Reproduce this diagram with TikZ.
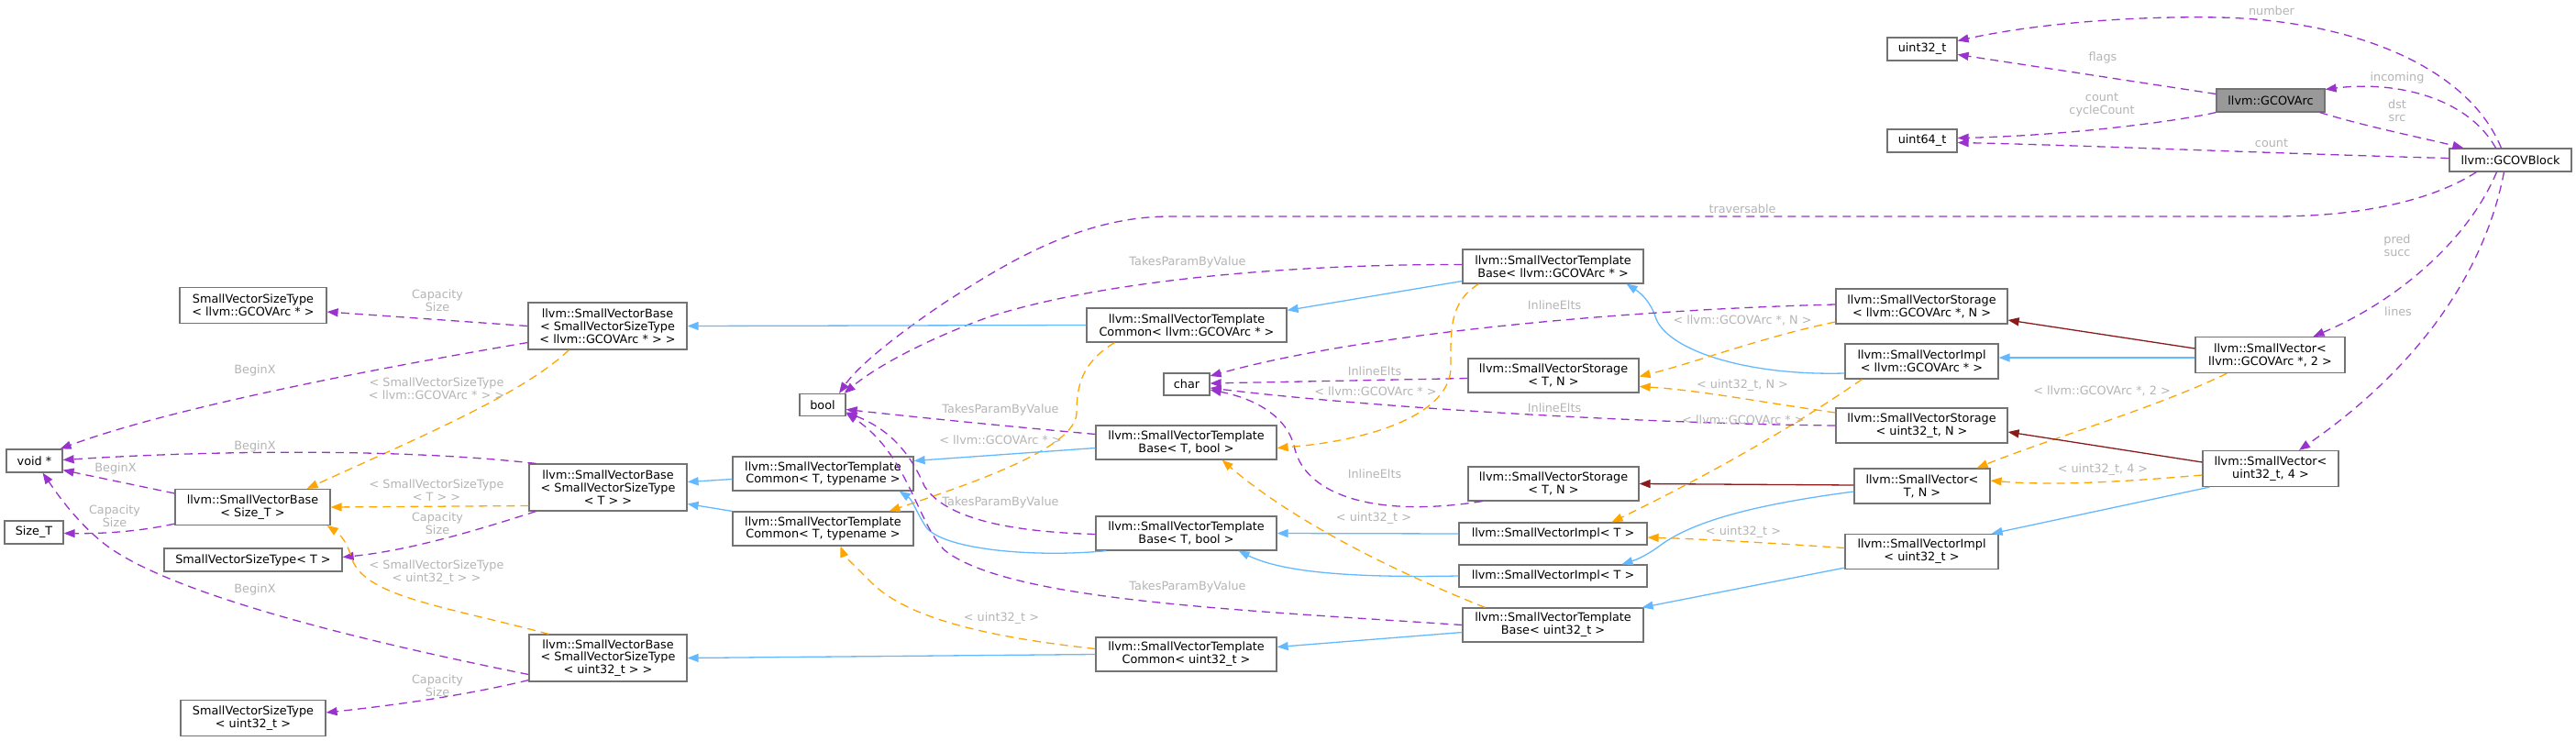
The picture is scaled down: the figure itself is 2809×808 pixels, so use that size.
\documentclass[tikz,border=0pt]{standalone}
\usepackage{fontspec}
\setmainfont{DejaVu Sans}
\usetikzlibrary{arrows.meta,calc}
\definecolor{purp}{HTML}{9A32CD}
\definecolor{orng}{HTML}{FFA500}
\definecolor{blu}{HTML}{63B8FF}
\definecolor{dred}{HTML}{8B1A1A}
\definecolor{lblgray}{HTML}{B4B4B4}
\definecolor{bordergray}{HTML}{737373}
\definecolor{arcfill}{HTML}{999999}
\newcommand\nfont{\fontsize{12.8}{13.8}\selectfont}
\tikzset{
  box/.style={draw=bordergray, fill=white, line width=1.2pt, inner sep=0pt, align=center, font=\nfont},
  lbl/.style={text=lblgray, inner sep=0pt, align=center, font=\nfont},
  tip/.style={-{Triangle[length=12pt,width=9pt]}},
  euse/.style={draw=purp, line width=1.3pt, dash pattern=on 9pt off 6pt, tip},
  etmpl/.style={draw=orng, line width=1.3pt, dash pattern=on 9pt off 6pt, tip},
  epub/.style={draw=blu, line width=1.3pt, tip},
  epriv/.style={draw=dred, line width=1.3pt, tip},
}
\begin{document}
\begin{tikzpicture}[x=1pt,y=-1pt]
\useasboundingbox (0,0) rectangle (2809,808);
% ---------- nodes ----------
\node[box, minimum width=76pt, minimum height=25pt] (u32) at (2096,53.5) {uint32\_t};
\node[box, minimum width=76pt, minimum height=25pt] (u64) at (2096,153.5) {uint64\_t};
\node[box, fill=arcfill, minimum width=118pt, minimum height=25pt] (arc) at (2476,109.5) {llvm::GCOVArc};
\node[box, minimum width=133pt, minimum height=25pt] (blk) at (2737.5,174.5) {llvm::GCOVBlock};
\node[box, minimum width=163pt, minimum height=39pt] (svA2) at (2475.5,387) {llvm::SmallVector<\\ llvm::GCOVArc *, 2 >};
\node[box, minimum width=148pt, minimum height=39pt] (svU4) at (2476,511) {llvm::SmallVector<\\ uint32\_t, 4 >};
\node[box, minimum width=187pt, minimum height=38pt] (svsA) at (2095.5,334) {llvm::SmallVectorStorage\\< llvm::GCOVArc *, N >};
\node[box, minimum width=167pt, minimum height=38pt] (svimA) at (2095.5,394) {llvm::SmallVectorImpl\\< llvm::GCOVArc * >};
\node[box, minimum width=187pt, minimum height=38pt] (svsU) at (2095.5,464) {llvm::SmallVectorStorage\\< uint32\_t, N >};
\node[box, minimum width=148pt, minimum height=38pt] (svTN) at (2096,530) {llvm::SmallVector<\\ T, N >};
\node[box, minimum width=167pt, minimum height=38pt] (svimU) at (2095.5,601.5) {llvm::SmallVectorImpl\\< uint32\_t >};
\node[box, minimum width=197pt, minimum height=37pt] (svtbA) at (1693.5,290.5) {llvm::SmallVectorTemplate\\Base< llvm::GCOVArc * >};
\node[box, minimum width=186pt, minimum height=37pt] (svsT1) at (1694,409.5) {llvm::SmallVectorStorage\\< T, N >};
\node[box, minimum width=186pt, minimum height=37pt] (svsT2) at (1694,527.5) {llvm::SmallVectorStorage\\< T, N >};
\node[box, minimum width=205pt, minimum height=24pt] (svimT1) at (1693.5,582) {llvm::SmallVectorImpl< T >};
\node[box, minimum width=205pt, minimum height=24pt] (svimT2) at (1693.5,628) {llvm::SmallVectorImpl< T >};
\node[box, minimum width=197pt, minimum height=37pt] (svtbU) at (1693.5,681.5) {llvm::SmallVectorTemplate\\Base< uint32\_t >};
\node[box, minimum width=218pt, minimum height=37pt] (svtcA) at (1294,354.5) {llvm::SmallVectorTemplate\\Common< llvm::GCOVArc * >};
\node[box, minimum width=50pt, minimum height=24pt] (char) at (1294,419) {char};
\node[box, minimum width=197pt, minimum height=37pt] (svtbT1) at (1293.5,482.5) {llvm::SmallVectorTemplate\\Base< T, bool >};
\node[box, minimum width=197pt, minimum height=37pt] (svtbT2) at (1293.5,581.5) {llvm::SmallVectorTemplate\\Base< T, bool >};
\node[box, minimum width=197pt, minimum height=37pt] (svtcU) at (1293.5,713.5) {llvm::SmallVectorTemplate\\Common< uint32\_t >};
\node[box, minimum width=50pt, minimum height=24pt] (bool) at (897,441.5) {bool};
\node[box, minimum width=197pt, minimum height=37pt] (svtc1) at (897.5,516.5) {llvm::SmallVectorTemplate\\Common< T, typename >};
\node[box, minimum width=197pt, minimum height=37pt] (svtc2) at (897.5,576.5) {llvm::SmallVectorTemplate\\Common< T, typename >};
\node[box, minimum width=173pt, minimum height=51pt] (svbA) at (662.5,355.5) {llvm::SmallVectorBase\\< SmallVectorSizeType\\< llvm::GCOVArc * > >};
\node[box, minimum width=172pt, minimum height=51pt] (svbT) at (663,531.5) {llvm::SmallVectorBase\\< SmallVectorSizeType\\< T > >};
\node[box, minimum width=172pt, minimum height=51pt] (svbU) at (663,717.5) {llvm::SmallVectorBase\\< SmallVectorSizeType\\< uint32\_t > >};
\node[box, minimum width=160pt, minimum height=39pt] (svstA) at (276,333) {SmallVectorSizeType\\< llvm::GCOVArc * >};
\node[box, minimum width=169pt, minimum height=39pt] (svbS) at (275.5,553) {llvm::SmallVectorBase\\< Size\_T >};
\node[box, minimum width=194pt, minimum height=25pt] (svstT) at (276,610.5) {SmallVectorSizeType< T >};
\node[box, minimum width=158pt, minimum height=39pt] (svstU) at (276,783) {SmallVectorSizeType\\< uint32\_t >};
\node[box, minimum width=61pt, minimum height=25pt] (void) at (37.5,502.5) {void *};
\node[box, minimum width=64pt, minimum height=25pt] (sizeT) at (37,580.5) {Size\_T};
% ---------- edges: GCOV ----------
\draw[euse] ($(blk.north)+(-10,0)$) .. controls (2690,70) and (2560,22) .. (2420,19) .. controls (2300,17) and (2200,30) .. ($(u32.east)+(0,-9)$);
\draw[euse] ($(arc.west)+(0,-7)$) -- ($(u32.east)+(0,6)$);
\draw[euse] ($(blk.north)+(-16,0)$) .. controls (2690,105) and (2610,88) .. ($(arc.east)+(0,-12)$);
\draw[euse] ($(arc.south east)+(-6,0)$) .. controls (2580,138) and (2640,150) .. ($(blk.north west)+(16,0)$);
\draw[euse] (arc.south west) .. controls (2370,133) and (2250,148) .. ($(u64.east)+(0,-3)$);
\draw[euse] ($(blk.west)+(0,-2)$) .. controls (2500,168) and (2260,158) .. ($(u64.east)+(0,2)$);
\draw[euse] ($(blk.south west)+(30,0)$) .. controls (2650,220) and (2570,236) .. (2480,236) -- (1276,236) .. controls (1180,236) and (1100,285) .. (1030,330) .. controls (975,367) and (935,400) .. ($(bool.north)+(18,0)$);
\draw[euse] ($(blk.south)+(-15,0)$) .. controls (2690,265) and (2610,330) .. ($(svA2.north)+(47,0)$);
\draw[euse] ($(blk.south)+(-7,0)$) .. controls (2705,320) and (2610,420) .. ($(svU4.north)+(31,0)$);
% ---------- edges: SmallVector family ----------
\draw[epriv] ($(svA2.west)+(0,-7)$) -- ($(svsA.east)+(0,15)$);
\draw[epub] ($(svA2.west)+(0,3)$) -- ($(svimA.east)+(0,-4)$);
\draw[etmpl] ($(svA2.south west)+(35,0)$) .. controls (2350,445) and (2230,480) .. ($(svTN.north east)+(-15,0)$);
\draw[epriv] ($(svU4.west)+(0,-7)$) -- ($(svsU.east)+(0,7)$);
\draw[etmpl] ($(svU4.west)+(0,7)$) .. controls (2320,525) and (2240,530) .. ($(svTN.east)+(0,-6)$);
\draw[epub] ($(svU4.south west)+(8,0)$) -- ($(svimU.north east)+(-8,0)$);
\draw[epriv] ($(svTN.west)+(0,-1)$) -- (svsT2.east);
\draw[epub] ($(svTN.west)+(0,6)$) .. controls (1930,548) and (1850,565) .. (1810,595) .. controls (1795,606) and (1785,610) .. ($(svimT2.north)+(75,0)$);
\draw[epub] ($(svimA.west)+(0,13)$) .. controls (1900,410) and (1815,380) .. (1805,345) .. controls (1800,330) and (1790,320) .. ($(svtbA.south)+(80,0)$);
\draw[etmpl] ($(svimA.south west)+(19,0)$) .. controls (1985,445) and (1900,500) .. ($(svimT1.north)+(64,0)$);
\draw[etmpl] ($(svsA.west)+(0,17)$) .. controls (1920,368) and (1850,395) .. ($(svsT1.east)+(0,1)$);
\draw[etmpl] ($(svsU.west)+(0,-14)$) .. controls (1930,440) and (1850,425) .. ($(svsT1.east)+(0,12)$);
\draw[euse] ($(svsA.west)+(0,-2)$) .. controls (1800,337) and (1500,360) .. ($(char.east)+(0,-9)$);
\draw[euse] ($(svsT1.west)+(0,3)$) -- ($(char.east)+(0,-1)$);
\draw[euse] (svsU.west) .. controls (1800,462) and (1500,445) .. ($(char.east)+(0,4)$);
\draw[euse] ($(svsT2.south west)+(16,0)$) .. controls (1500,565) and (1425,540) .. (1412,490) .. controls (1405,455) and (1370,435) .. ($(char.east)+(0,6)$);
\draw[etmpl] ($(svimU.west)+(0,-4)$) .. controls (1930,592) and (1860,588) .. ($(svimT1.east)+(0,4)$);
\draw[epub] ($(svimU.south west)+(0,-2)$) -- ($(svtbU.north east)+(-2,0)$);
% ---------- edges: template base / common ----------
\draw[epub] ($(svtbA.west)+(0,16)$) -- ($(svtcA.north east)+(0,3)$);
\draw[euse] ($(svtbA.west)+(0,-2)$) .. controls (1380,288) and (1190,310) .. (1080,345) .. controls (1010,370) and (955,400) .. ($(bool.north east)+(-2,0)$);
\draw[etmpl] ($(svtbA.south west)+(18,0)$) .. controls (1580,330) and (1582,360) .. (1582,400) .. controls (1582,450) and (1500,480) .. ($(svtbT1.east)+(0,6)$);
\draw[epub] (svtcA.west) -- (svbA.east);
\draw[etmpl] ($(svtcA.south west)+(31,0)$) .. controls (1180,395) and (1174,420) .. (1174,450) .. controls (1174,490) and (1050,530) .. ($(svtc2.north east)+(-27,0)$);
\draw[epub] ($(svtbT1.west)+(0,6)$) -- ($(svtc1.east)+(0,-14)$);
\draw[euse] ($(svtbT1.west)+(0,-9)$) .. controls (1100,465) and (1000,455) .. ($(bool.east)+(0,5)$);
\draw[epub] ($(svtbT2.south west)+(12,0)$) .. controls (1130,608) and (1030,600) .. (1010,575) .. controls (1000,560) and (995,545) .. ($(svtc1.south east)+(-16,0)$);
\draw[euse] ($(svtbT2.west)+(0,1)$) .. controls (1100,580) and (1030,565) .. (1008,530) .. controls (995,500) and (975,470) .. ($(bool.east)+(0,8)$);
\draw[epub] (svimT1.west) -- (svtbT2.east);
\draw[epub] (svimT2.west) .. controls (1480,630) and (1400,625) .. ($(svtbT2.south east)+(-42,0)$);
\draw[etmpl] ($(svtbU.north west)+(25,0)$) .. controls (1500,615) and (1400,560) .. ($(svtbT1.south east)+(-60,0)$);
\draw[epub] ($(svtbU.west)+(0,8)$) -- ($(svtcU.east)+(0,-8)$);
\draw[euse] (svtbU.west) .. controls (1350,665) and (1100,655) .. (1030,600) .. controls (1000,570) and (990,495) .. ($(bool.east)+(0,9)$);
\draw[epub] (svtcU.west) -- (svbU.east);
\draw[etmpl] ($(svtcU.west)+(0,-6)$) .. controls (1080,695) and (990,675) .. (950,635) .. controls (930,615) and (920,605) .. ($(svtc2.south)+(19,0)$);
\draw[epub] ($(svtc1.west)+(0,6)$) -- ($(svbT.east)+(0,-6)$);
\draw[epub] (svtc2.north west) -- ($(svbT.east)+(0,18)$);
% ---------- edges: SmallVectorBase ----------
\draw[euse] (svbA.west) -- ($(svstA.east)+(0,7)$);
\draw[euse] ($(svbA.west)+(0,18)$) .. controls (450,395) and (200,440) .. ($(void.north east)+(-3,0)$);
\draw[etmpl] ($(svbA.south west)+(45,0)$) .. controls (570,430) and (450,480) .. ($(svbS.north east)+(-26,0)$);
\draw[euse] ($(svbT.north west)+(8,0)$) .. controls (450,490) and (250,490) .. ($(void.east)+(0,-1)$);
\draw[etmpl] ($(svbT.west)+(0,20)$) -- (svbS.east);
\draw[euse] ($(svbT.south west)+(8,0)$) .. controls (530,575) and (450,600) .. ($(svstT.east)+(0,-3)$);
\draw[euse] ($(svbS.west)+(0,-15)$) -- ($(void.south east)+(0,-3)$);
\draw[euse] ($(svbS.south west)+(0,-2)$) .. controls (150,580) and (110,582) .. ($(sizeT.east)+(0,1)$);
\draw[euse] ($(svbU.west)+(0,18)$) .. controls (350,690) and (170,640) .. (110,590) .. controls (80,565) and (60,535) .. ($(void.south)+(9,0)$);
\draw[etmpl] ($(svbU.north west)+(22,0)$) .. controls (480,660) and (395,650) .. (383,607) .. controls (378,590) and (370,582) .. ($(svbS.south east)+(-4,0)$);
\draw[euse] ($(svbU.south west)+(0,-2)$) .. controls (500,760) and (420,770) .. ($(svstU.east)+(0,-6)$);
% ---------- labels ----------
\node[lbl] (l1) at (2477,12) {number};
\node[lbl] (l2) at (2293,63) {flags};
\node[lbl] (l3) at (2614,85) {incoming};
\node[lbl] (l4) at (2614,121) {dst\\src};
\node[lbl] (l5) at (2292,114) {count\\cycleCount};
\node[lbl] (l6) at (2477,156) {count};
\node[lbl] (l7) at (1900,228) {traversable};
\node[lbl] (l8) at (2614,268) {pred\\succ};
\node[lbl] (l9) at (2615,340) {lines};
\node[lbl] (l10) at (2292,426) {< llvm::GCOVArc *, 2 >};
\node[lbl] (l11) at (2293,512) {< uint32\_t, 4 >};
\node[lbl] (l12) at (1900,349) {< llvm::GCOVArc *, N >};
\node[lbl] (l13) at (1900,420) {< uint32\_t, N >};
\node[lbl] (l14) at (1901,458) {< llvm::GCOVArc * >};
\node[lbl] (l15) at (1901,580) {< uint32\_t >};
\node[lbl] (l16) at (1695,333) {InlineElts};
\node[lbl] (l17) at (1499,405) {InlineElts};
\node[lbl] (l18) at (1695,445) {InlineElts};
\node[lbl] (l19) at (1499,517) {InlineElts};
\node[lbl] (l20) at (1500,427) {< llvm::GCOVArc * >};
\node[lbl] (l21) at (1498,565) {< uint32\_t >};
\node[lbl] (l22) at (1295,286) {TakesParamByValue};
\node[lbl] (l23) at (1091,447) {TakesParamByValue};
\node[lbl] (l24) at (1091,548) {TakesParamByValue};
\node[lbl] (l25) at (1295,640) {TakesParamByValue};
\node[lbl] (l26) at (1091,480) {< llvm::GCOVArc * >};
\node[lbl] (l27) at (1092,674) {< uint32\_t >};
\node[lbl] (l28) at (477,328) {Capacity\\Size};
\node[lbl] (l29) at (278,404) {BeginX};
\node[lbl] (l30) at (476,424) {< SmallVectorSizeType\\< llvm::GCOVArc * > >};
\node[lbl] (l31) at (278,487) {BeginX};
\node[lbl] (l32) at (476,535) {< SmallVectorSizeType\\< T > >};
\node[lbl] (l33) at (477,571) {Capacity\\Size};
\node[lbl] (l34) at (126,511) {BeginX};
\node[lbl] (l35) at (125,563) {Capacity\\Size};
\node[lbl] (l36) at (476,624) {< SmallVectorSizeType\\< uint32\_t > >};
\node[lbl] (l37) at (278,643) {BeginX};
\node[lbl] (l38) at (477,748) {Capacity\\Size};
\end{tikzpicture}
\end{document}
